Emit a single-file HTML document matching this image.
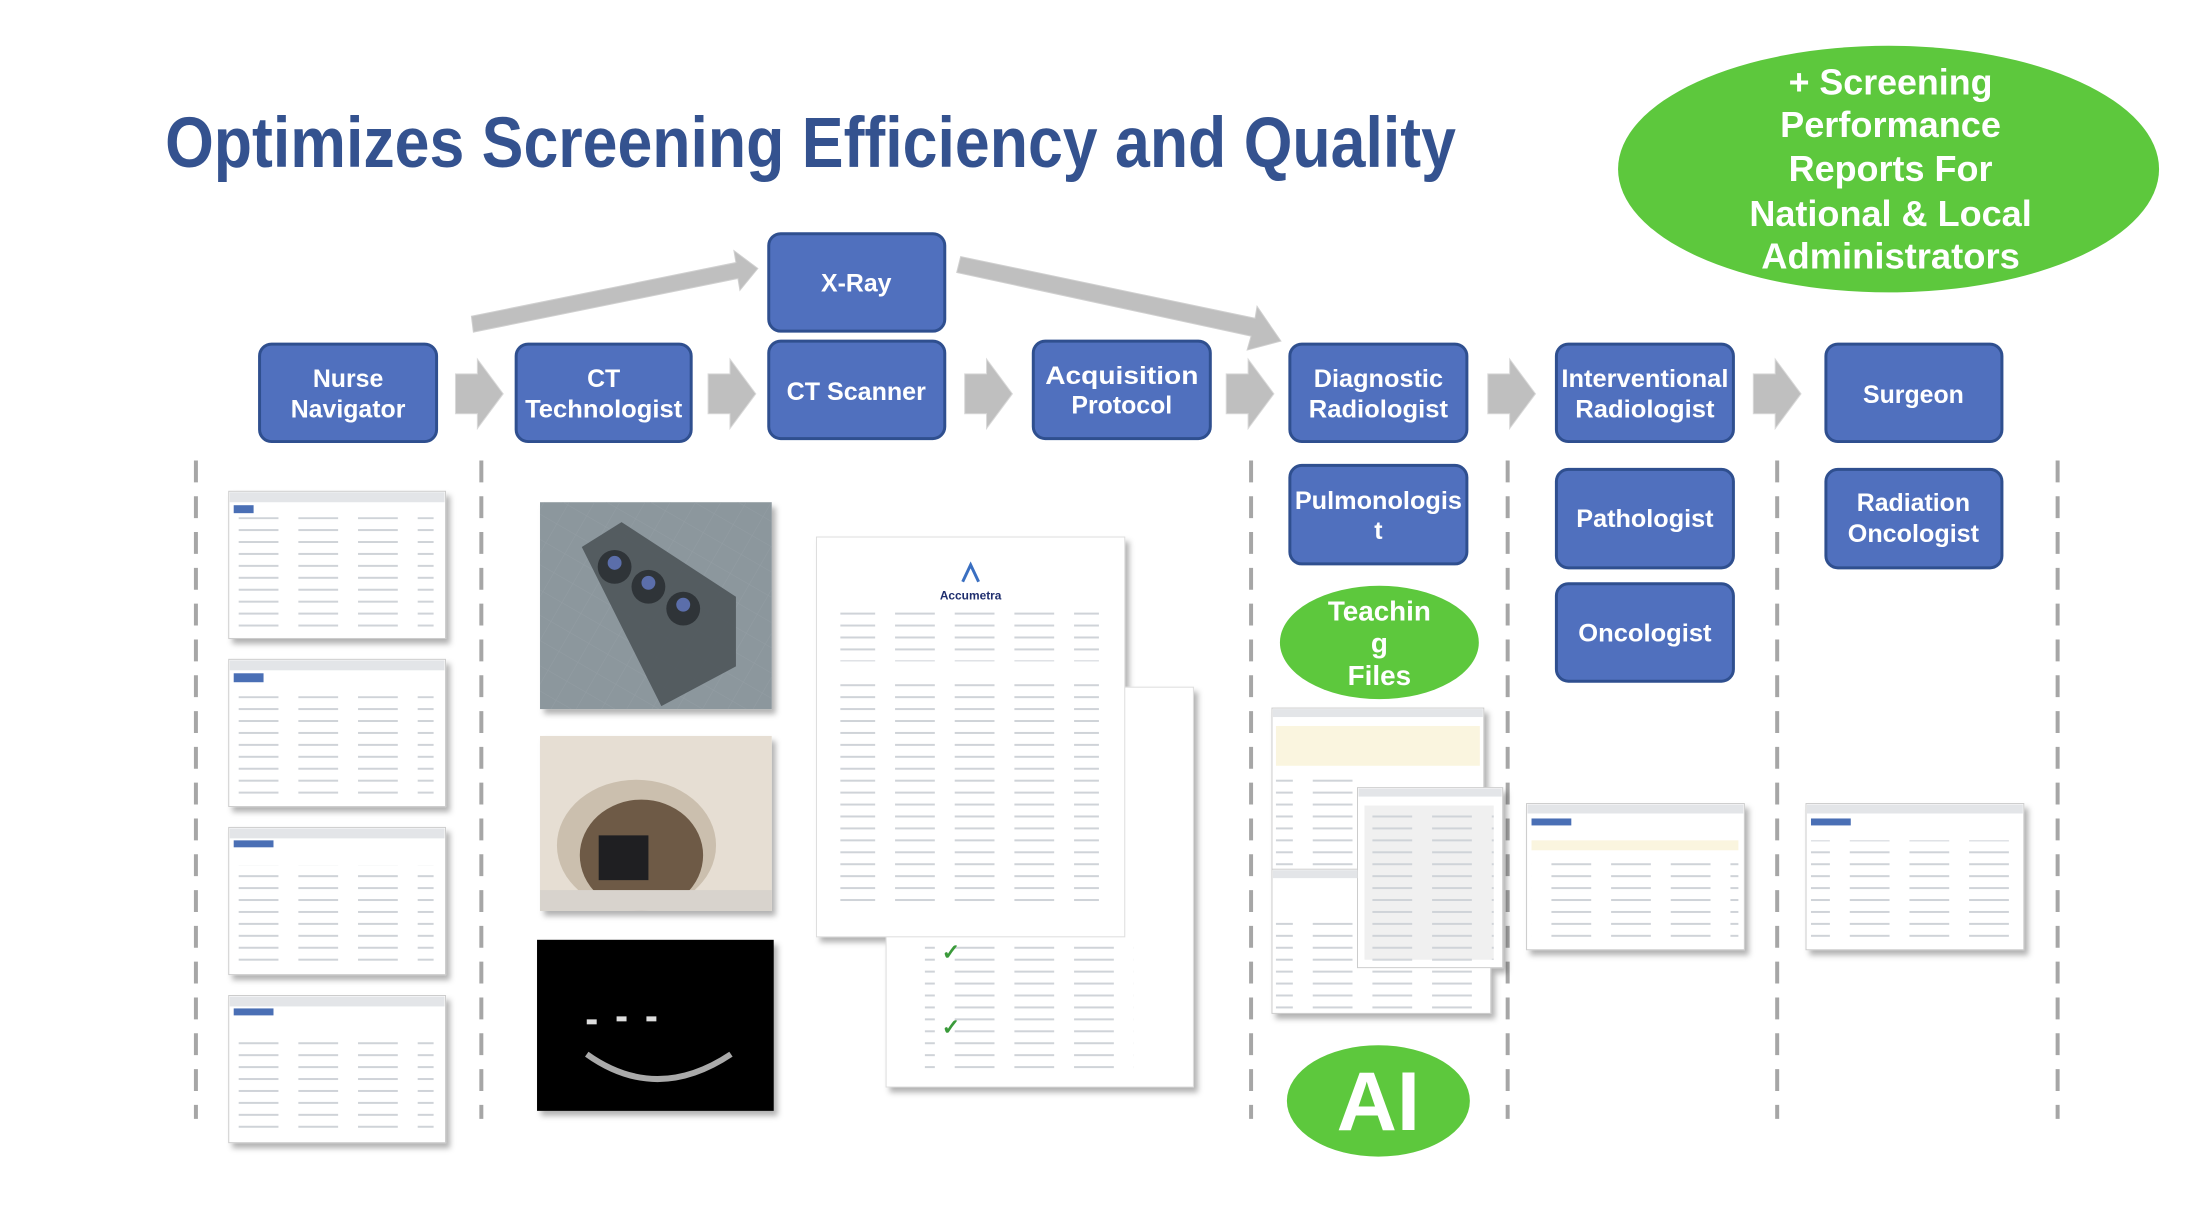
<!DOCTYPE html>
<html><head><meta charset="utf-8"><style>
html,body{margin:0;padding:0;background:#fff;}
svg{display:block;}
text{font-family:"Liberation Sans",sans-serif;font-weight:bold;}
</style></head><body>
<svg width="2198" height="1232" viewBox="0 0 2198 1232" xmlns="http://www.w3.org/2000/svg">
<defs>
<pattern id="lines" width="60" height="12" patternUnits="userSpaceOnUse">
<rect x="0" y="4" width="40" height="2" fill="#cfd3d8"/>
</pattern>
<pattern id="grid" width="22" height="22" patternUnits="userSpaceOnUse" patternTransform="rotate(30)">
<path d="M0 0H22M0 0V22" stroke="#9aa3aa" stroke-width="1" fill="none"/>
</pattern>
<filter id="sh" x="-10%" y="-10%" width="130%" height="130%"><feDropShadow dx="4" dy="5" stdDeviation="3" flood-color="#000" flood-opacity="0.3"/></filter>
<g id="blk"><path d="M0 -20 H22 V-35 L48 0 L22 35 V20 H0 Z" fill="#BFBFBF" stroke="#d9d9d9" stroke-width="1"/></g>
</defs>
<g transform="scale(0.9945)">
<text x="166" y="168" font-size="72" fill="#34528F" textLength="1298" lengthAdjust="spacingAndGlyphs">Optimizes Screening Efficiency and Quality</text>

<ellipse cx="1899" cy="170" rx="272" ry="124" fill="#5DC83D"/>
<g fill="#fff" font-size="36" text-anchor="middle">
<text x="1901" y="95" textLength="205" lengthAdjust="spacingAndGlyphs">+ Screening</text>
<text x="1901" y="138" textLength="222" lengthAdjust="spacingAndGlyphs">Performance</text>
<text x="1901" y="182" textLength="205" lengthAdjust="spacingAndGlyphs">Reports For</text>
<text x="1901" y="227" textLength="284" lengthAdjust="spacingAndGlyphs">National &amp; Local</text>
<text x="1901" y="270" textLength="260" lengthAdjust="spacingAndGlyphs">Administrators</text>
</g>

<g stroke="#A6A6A6" stroke-width="4" stroke-dasharray="22,14">
<line x1="197" y1="463" x2="197" y2="1125"/>
<line x1="484" y1="463" x2="484" y2="1125"/>
<line x1="1258" y1="463" x2="1258" y2="1125"/>
<line x1="1516" y1="463" x2="1516" y2="1125"/>
<line x1="1787" y1="463" x2="1787" y2="1125"/>
<line x1="2069" y1="463" x2="2069" y2="1125"/>
</g>

<use href="#blk" x="458" y="396"/>
<use href="#blk" x="712" y="396"/>
<use href="#blk" x="970" y="396"/>
<use href="#blk" x="1233" y="396"/>
<use href="#blk" x="1496" y="396"/>
<use href="#blk" x="1763" y="396"/>
<path d="M474 318 L740 264 L738 252 L762 270 L744 292 L742 280 L476 334 Z" fill="#BFBFBF" stroke="#d0d0d0"/>
<path d="M966 258 L1262 320 L1264 308 L1288 343 L1254 352 L1258 338 L962 274 Z" fill="#BFBFBF" stroke="#d0d0d0"/>

<g fill="#5070BE" stroke="#2F4F8F" stroke-width="3">
<rect x="261" y="346" width="178" height="98" rx="12"/>
<rect x="519" y="346" width="176" height="98" rx="12"/>
<rect x="773" y="343" width="177" height="98" rx="12"/>
<rect x="773" y="235" width="177" height="98" rx="12"/>
<rect x="1039" y="343" width="178" height="98" rx="12"/>
<rect x="1297" y="346" width="178" height="98" rx="12"/>
<rect x="1565" y="346" width="178" height="98" rx="12"/>
<rect x="1836" y="346" width="177" height="98" rx="12"/>
<rect x="1297" y="468" width="178" height="99" rx="12"/>
<rect x="1565" y="472" width="178" height="99" rx="12"/>
<rect x="1836" y="472" width="177" height="99" rx="12"/>
<rect x="1565" y="587" width="178" height="98" rx="12"/>
</g>
<g fill="#fff" font-size="25" text-anchor="middle">
<text x="350" y="389">Nurse</text><text x="350" y="420">Navigator</text>
<text x="607" y="389">CT</text><text x="607" y="420" textLength="158" lengthAdjust="spacingAndGlyphs">Technologist</text>
<text x="861" y="402" textLength="140" lengthAdjust="spacingAndGlyphs">CT Scanner</text>
<text x="861" y="293">X-Ray</text>
<text x="1128" y="386" textLength="154" lengthAdjust="spacingAndGlyphs">Acquisition</text><text x="1128" y="416">Protocol</text>
<text x="1386" y="389" textLength="130" lengthAdjust="spacingAndGlyphs">Diagnostic</text><text x="1386" y="420" textLength="140" lengthAdjust="spacingAndGlyphs">Radiologist</text>
<text x="1654" y="389" textLength="168" lengthAdjust="spacingAndGlyphs">Interventional</text><text x="1654" y="420" textLength="140" lengthAdjust="spacingAndGlyphs">Radiologist</text>
<text x="1924" y="405">Surgeon</text>
<text x="1386" y="512" textLength="168" lengthAdjust="spacingAndGlyphs">Pulmonologis</text><text x="1386" y="542">t</text>
<text x="1654" y="530" textLength="138" lengthAdjust="spacingAndGlyphs">Pathologist</text>
<text x="1924" y="514">Radiation</text><text x="1924" y="545" textLength="132" lengthAdjust="spacingAndGlyphs">Oncologist</text>
<text x="1654" y="645" textLength="134" lengthAdjust="spacingAndGlyphs">Oncologist</text>
</g>

<ellipse cx="1387" cy="646" rx="100" ry="57" fill="#5DC83D"/>
<g fill="#fff" font-size="28" text-anchor="middle">
<text x="1387" y="624">Teachin</text><text x="1387" y="656">g</text><text x="1387" y="689">Files</text>
</g>
<ellipse cx="1386" cy="1107" rx="92" ry="56" fill="#5DC83D"/>
<text x="1386" y="1136" fill="#fff" font-size="84" text-anchor="middle">AI</text>

<g filter="url(#sh)">
<rect x="230" y="494" width="218" height="148" fill="#fff" stroke="#ccc"/>
<rect x="230" y="663" width="218" height="148" fill="#fff" stroke="#ccc"/>
<rect x="230" y="832" width="218" height="148" fill="#fff" stroke="#ccc"/>
<rect x="230" y="1001" width="218" height="148" fill="#fff" stroke="#ccc"/>
</g>
<g fill="#e3e5e8">
<rect x="231" y="495" width="216" height="10"/><rect x="231" y="664" width="216" height="10"/>
<rect x="231" y="833" width="216" height="10"/><rect x="231" y="1002" width="216" height="10"/>
</g>
<rect x="236" y="520" width="200" height="115" fill="url(#lines)"/>
<rect x="236" y="700" width="200" height="100" fill="url(#lines)"/>
<rect x="236" y="870" width="200" height="100" fill="url(#lines)"/>
<rect x="236" y="1040" width="200" height="100" fill="url(#lines)"/>
<g fill="#4a6fb5"><rect x="235" y="508" width="20" height="8"/><rect x="235" y="677" width="30" height="9"/><rect x="235" y="845" width="40" height="7"/><rect x="235" y="1014" width="40" height="7"/></g>

<g filter="url(#sh)">
<rect x="543" y="505" width="233" height="208" fill="#8c979d"/>
</g>
<rect x="543" y="505" width="233" height="208" fill="url(#grid)" opacity="0.5"/>
<path d="M585 570 L625 545 L740 620 L740 690 L665 730 Z" fill="#4a5156" opacity="0.85" transform="translate(0,-20)"/>
<g fill="#2f3438"><circle cx="618" cy="570" r="17"/><circle cx="652" cy="590" r="17"/><circle cx="687" cy="612" r="17"/></g>
<g fill="#5b6eaa"><circle cx="618" cy="566" r="7"/><circle cx="652" cy="586" r="7"/><circle cx="687" cy="608" r="7"/></g>

<g filter="url(#sh)"><rect x="543" y="740" width="233" height="176" fill="#e6ded3"/></g>
<ellipse cx="640" cy="850" rx="80" ry="66" fill="#cbbfae"/>
<ellipse cx="645" cy="860" rx="62" ry="56" fill="#6e5a46"/>
<rect x="602" y="840" width="50" height="45" fill="#1f1f22"/>
<rect x="543" y="895" width="233" height="21" fill="#d8d3cd"/>

<g filter="url(#sh)"><rect x="540" y="945" width="238" height="172" fill="#000"/></g>
<g fill="#ddd"><rect x="590" y="1025" width="10" height="5"/><rect x="620" y="1022" width="10" height="5"/><rect x="650" y="1022" width="10" height="5"/></g>
<path d="M590 1060 Q660 1110 735 1060" stroke="#aaa" stroke-width="6" fill="none"/>

<g filter="url(#sh)">
<rect x="891" y="691" width="309" height="402" fill="#fff" stroke="#ddd"/>
<rect x="821" y="540" width="310" height="402" fill="#fff" stroke="#ddd"/>
</g>
<text x="976" y="603" font-size="12" fill="#1f2e6e" text-anchor="middle">Accumetra</text>
<path d="M968 585 L976 568 L984 585" stroke="#3a6fc1" stroke-width="3" fill="none"/>
<rect x="845" y="615" width="260" height="50" fill="url(#lines)"/>
<rect x="845" y="680" width="260" height="230" fill="url(#lines)"/>
<rect x="930" y="950" width="210" height="130" fill="url(#lines)"/>
<text x="947" y="965" font-size="22" fill="#3a9a3a">✓</text>
<text x="947" y="1040" font-size="22" fill="#3a9a3a">✓</text>

<g filter="url(#sh)">
<rect x="1279" y="712" width="213" height="173" fill="#fff" stroke="#ccc"/>
<rect x="1279" y="874" width="220" height="145" fill="#fff" stroke="#ccc"/>
<rect x="1365" y="792" width="146" height="181" fill="#fff" stroke="#ccc"/>
</g>
<rect x="1283" y="730" width="205" height="40" fill="#faf5df"/>
<rect x="1283" y="775" width="80" height="100" fill="url(#lines)"/>
<rect x="1283" y="920" width="210" height="95" fill="url(#lines)"/>
<rect x="1372" y="810" width="130" height="155" fill="#f0f0f0"/>
<rect x="1372" y="815" width="130" height="150" fill="url(#lines)"/>
<g fill="#e3e5e8"><rect x="1280" y="713" width="211" height="8"/><rect x="1280" y="875" width="85" height="8"/><rect x="1366" y="793" width="144" height="8"/></g>

<g filter="url(#sh)">
<rect x="1535" y="808" width="219" height="147" fill="#fff" stroke="#ccc"/>
<rect x="1816" y="808" width="219" height="147" fill="#fff" stroke="#ccc"/>
</g>
<g fill="#e3e5e8"><rect x="1536" y="809" width="217" height="9"/><rect x="1817" y="809" width="217" height="9"/></g>
<rect x="1540" y="845" width="208" height="10" fill="#faf5df"/>
<rect x="1540" y="860" width="208" height="90" fill="url(#lines)"/>
<rect x="1821" y="845" width="208" height="105" fill="url(#lines)"/>
<g fill="#4a6fb5"><rect x="1540" y="823" width="40" height="7"/><rect x="1821" y="823" width="40" height="7"/></g>
</g>
</svg>
</body></html>
